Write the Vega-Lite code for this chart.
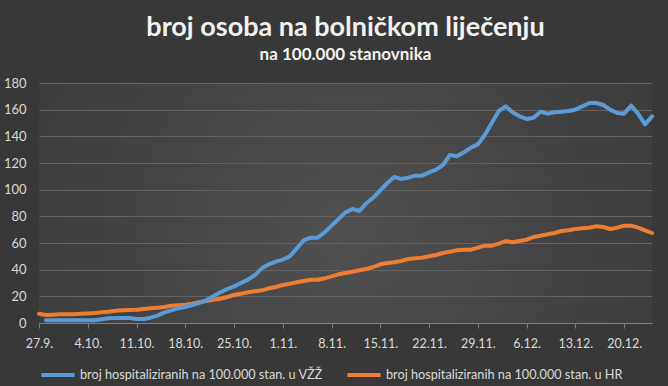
{
  "$schema": "https://vega.github.io/schema/vega-lite/v6.json",
  "autosize": "none",
  "width": 613,
  "height": 240,
  "padding": {"left": 39, "top": 83, "right": 16, "bottom": 63},
  "background": "#383838",
  "title": {
    "text": "broj osoba na bolničkom liječenju",
    "subtitle": "na 100.000 stanovnika",
    "font": "Lato", "fontSize": 27, "fontWeight": "bold", "color": "#f2f2f2",
    "subtitleFont": "Lato", "subtitleFontSize": 17, "subtitleFontWeight": "bold", "subtitleColor": "#f2f2f2",
    "subtitlePadding": 5, "offset": 13, "anchor": "middle"
  },
  "data": {"values": [
    {"date": "2020-09-27T00:00", "vzz": null, "hr": 7},
    {"date": "2020-09-28T00:00", "vzz": 2, "hr": 6},
    {"date": "2020-09-29T00:00", "vzz": 2, "hr": 6.2},
    {"date": "2020-09-30T00:00", "vzz": 2, "hr": 6.5},
    {"date": "2020-10-01T00:00", "vzz": 2, "hr": 6.5},
    {"date": "2020-10-02T00:00", "vzz": 2, "hr": 6.5},
    {"date": "2020-10-03T00:00", "vzz": 2, "hr": 7},
    {"date": "2020-10-04T00:00", "vzz": 2, "hr": 7.2},
    {"date": "2020-10-05T00:00", "vzz": 2, "hr": 7.5},
    {"date": "2020-10-06T00:00", "vzz": 2.8, "hr": 8},
    {"date": "2020-10-07T00:00", "vzz": 3.5, "hr": 8.5},
    {"date": "2020-10-08T00:00", "vzz": 3.8, "hr": 9.2},
    {"date": "2020-10-09T00:00", "vzz": 3.8, "hr": 9.5},
    {"date": "2020-10-10T00:00", "vzz": 3.7, "hr": 9.8},
    {"date": "2020-10-11T00:00", "vzz": 3, "hr": 10},
    {"date": "2020-10-12T00:00", "vzz": 3, "hr": 10.5},
    {"date": "2020-10-13T00:00", "vzz": 4, "hr": 11},
    {"date": "2020-10-14T00:00", "vzz": 5.5, "hr": 11.5},
    {"date": "2020-10-15T00:00", "vzz": 8, "hr": 12},
    {"date": "2020-10-16T00:00", "vzz": 9.5, "hr": 13},
    {"date": "2020-10-17T00:00", "vzz": 11, "hr": 13.3},
    {"date": "2020-10-18T00:00", "vzz": 12, "hr": 13.7},
    {"date": "2020-10-19T00:00", "vzz": 13.5, "hr": 14.5},
    {"date": "2020-10-20T00:00", "vzz": 15, "hr": 15.5},
    {"date": "2020-10-21T00:00", "vzz": 17, "hr": 16.5},
    {"date": "2020-10-22T00:00", "vzz": 20, "hr": 17.5},
    {"date": "2020-10-23T00:00", "vzz": 23, "hr": 18.2},
    {"date": "2020-10-24T00:00", "vzz": 25.5, "hr": 19.5},
    {"date": "2020-10-25T00:00", "vzz": 27.5, "hr": 21},
    {"date": "2020-10-26T00:00", "vzz": 30, "hr": 22},
    {"date": "2020-10-27T00:00", "vzz": 32.5, "hr": 23},
    {"date": "2020-10-28T00:00", "vzz": 36, "hr": 23.8},
    {"date": "2020-10-29T00:00", "vzz": 41, "hr": 24.5},
    {"date": "2020-10-30T00:00", "vzz": 44, "hr": 26},
    {"date": "2020-10-31T00:00", "vzz": 46, "hr": 27},
    {"date": "2020-11-01T00:00", "vzz": 47.5, "hr": 28.5},
    {"date": "2020-11-02T00:00", "vzz": 50, "hr": 29.5},
    {"date": "2020-11-03T00:00", "vzz": 56, "hr": 30.5},
    {"date": "2020-11-04T00:00", "vzz": 62, "hr": 31.5},
    {"date": "2020-11-05T00:00", "vzz": 64, "hr": 32.5},
    {"date": "2020-11-06T00:00", "vzz": 64, "hr": 32.5},
    {"date": "2020-11-07T00:00", "vzz": 68, "hr": 33.5},
    {"date": "2020-11-08T00:00", "vzz": 73, "hr": 35},
    {"date": "2020-11-09T00:00", "vzz": 78, "hr": 36.5},
    {"date": "2020-11-10T00:00", "vzz": 83, "hr": 37.5},
    {"date": "2020-11-11T00:00", "vzz": 85.5, "hr": 38.5},
    {"date": "2020-11-12T00:00", "vzz": 84, "hr": 39.5},
    {"date": "2020-11-13T00:00", "vzz": 90, "hr": 40.5},
    {"date": "2020-11-14T00:00", "vzz": 94, "hr": 42},
    {"date": "2020-11-15T00:00", "vzz": 99.5, "hr": 44},
    {"date": "2020-11-16T00:00", "vzz": 105, "hr": 45},
    {"date": "2020-11-17T00:00", "vzz": 109.5, "hr": 45.5},
    {"date": "2020-11-18T00:00", "vzz": 108, "hr": 46.5},
    {"date": "2020-11-19T00:00", "vzz": 109, "hr": 48},
    {"date": "2020-11-20T00:00", "vzz": 110.5, "hr": 48.5},
    {"date": "2020-11-21T00:00", "vzz": 110.5, "hr": 49},
    {"date": "2020-11-22T00:00", "vzz": 113, "hr": 50},
    {"date": "2020-11-23T00:00", "vzz": 115, "hr": 51},
    {"date": "2020-11-24T00:00", "vzz": 118.5, "hr": 52.5},
    {"date": "2020-11-25T00:00", "vzz": 126, "hr": 53.5},
    {"date": "2020-11-26T00:00", "vzz": 125, "hr": 54.5},
    {"date": "2020-11-27T00:00", "vzz": 128, "hr": 55},
    {"date": "2020-11-28T00:00", "vzz": 131.5, "hr": 55},
    {"date": "2020-11-29T00:00", "vzz": 134, "hr": 56.5},
    {"date": "2020-11-30T00:00", "vzz": 141, "hr": 58},
    {"date": "2020-12-01T00:00", "vzz": 150, "hr": 58},
    {"date": "2020-12-02T00:00", "vzz": 159, "hr": 59.5},
    {"date": "2020-12-03T00:00", "vzz": 162.5, "hr": 61.5},
    {"date": "2020-12-04T00:00", "vzz": 158, "hr": 60.5},
    {"date": "2020-12-05T00:00", "vzz": 155, "hr": 61.5},
    {"date": "2020-12-06T00:00", "vzz": 153, "hr": 62.5},
    {"date": "2020-12-07T00:00", "vzz": 154, "hr": 64.5},
    {"date": "2020-12-08T00:00", "vzz": 158.5, "hr": 65.5},
    {"date": "2020-12-09T00:00", "vzz": 157, "hr": 66.5},
    {"date": "2020-12-10T00:00", "vzz": 158, "hr": 67.5},
    {"date": "2020-12-11T00:00", "vzz": 158.5, "hr": 69},
    {"date": "2020-12-12T00:00", "vzz": 159, "hr": 69.5},
    {"date": "2020-12-13T00:00", "vzz": 160, "hr": 70.5},
    {"date": "2020-12-14T00:00", "vzz": 162.5, "hr": 71},
    {"date": "2020-12-15T00:00", "vzz": 165, "hr": 71.5},
    {"date": "2020-12-16T00:00", "vzz": 165, "hr": 72.5},
    {"date": "2020-12-17T00:00", "vzz": 163.5, "hr": 72},
    {"date": "2020-12-18T00:00", "vzz": 160, "hr": 70.5},
    {"date": "2020-12-19T00:00", "vzz": 157.5, "hr": 71.5},
    {"date": "2020-12-20T00:00", "vzz": 157, "hr": 73},
    {"date": "2020-12-21T00:00", "vzz": 163, "hr": 73},
    {"date": "2020-12-22T00:00", "vzz": 157, "hr": 71.5},
    {"date": "2020-12-23T00:00", "vzz": 149, "hr": 69.5},
    {"date": "2020-12-24T00:00", "vzz": 155, "hr": 67.5}
  ]},
  "transform": [
    {"fold": ["vzz", "hr"], "as": ["key", "value"]},
    {"filter": "datum.value != null"}
  ],
  "mark": {"type": "line", "strokeWidth": 4, "strokeCap": "round", "strokeJoin": "round"},
  "encoding": {
    "x": {
      "field": "date", "type": "temporal",
      "scale": {"domain": [{"year": 2020, "month": 9, "date": 27}, {"year": 2020, "month": 12, "date": 24}]},
      "axis": {
        "values": [
          {"year": 2020, "month": 9, "date": 27},
          {"year": 2020, "month": 10, "date": 4},
          {"year": 2020, "month": 10, "date": 11},
          {"year": 2020, "month": 10, "date": 18},
          {"year": 2020, "month": 10, "date": 25},
          {"year": 2020, "month": 11, "date": 1},
          {"year": 2020, "month": 11, "date": 8},
          {"year": 2020, "month": 11, "date": 15},
          {"year": 2020, "month": 11, "date": 22},
          {"year": 2020, "month": 11, "date": 29},
          {"year": 2020, "month": 12, "date": 6},
          {"year": 2020, "month": 12, "date": 13},
          {"year": 2020, "month": 12, "date": 20}
        ],
        "format": "%-d.%-m.",
        "title": null, "grid": false,
        "labelFont": "Lato", "labelFontSize": 12.5, "labelColor": "#d9d9d9",
        "domainColor": "#808080", "tickColor": "#808080", "tickSize": 5,
        "labelPadding": 9, "labelOverlap": false, "labelFlush": false
      }
    },
    "y": {
      "field": "value", "type": "quantitative",
      "scale": {"domain": [0, 180]},
      "axis": {
        "values": [0, 20, 40, 60, 80, 100, 120, 140, 160, 180],
        "title": null, "domain": false, "ticks": false,
        "labelFont": "Lato", "labelFontSize": 13, "labelColor": "#d9d9d9",
        "labelPadding": 13, "gridColor": "#636363", "gridWidth": 1
      }
    },
    "color": {
      "field": "key", "type": "nominal",
      "scale": {"domain": ["vzz", "hr"], "range": ["#5b9bd5", "#ed7d31"]},
      "legend": {
        "orient": "bottom", "direction": "horizontal", "title": null,
        "labelExpr": "datum.label == 'vzz' ? 'broj hospitaliziranih na 100.000 stan. u VŽŽ' : 'broj hospitaliziranih na 100.000 stan. u HR'",
        "symbolType": "stroke", "symbolStrokeWidth": 4, "symbolSize": 1100,
        "labelFont": "Lato", "labelFontSize": 12.7, "labelColor": "#d9d9d9",
        "labelOffset": 3, "labelLimit": 400, "columnPadding": 16, "offset": 6
      }
    }
  },
  "config": {
    "view": {
      "stroke": null,
      "fill": {
        "gradient": "radial",
        "x1": 0.5, "y1": 0.55, "r1": 0,
        "x2": 0.5, "y2": 0.55, "r2": 0.6,
        "stops": [
          {"offset": 0, "color": "#505050"},
          {"offset": 1, "color": "#3a3a3a"}
        ]
      }
    }
  }
}
